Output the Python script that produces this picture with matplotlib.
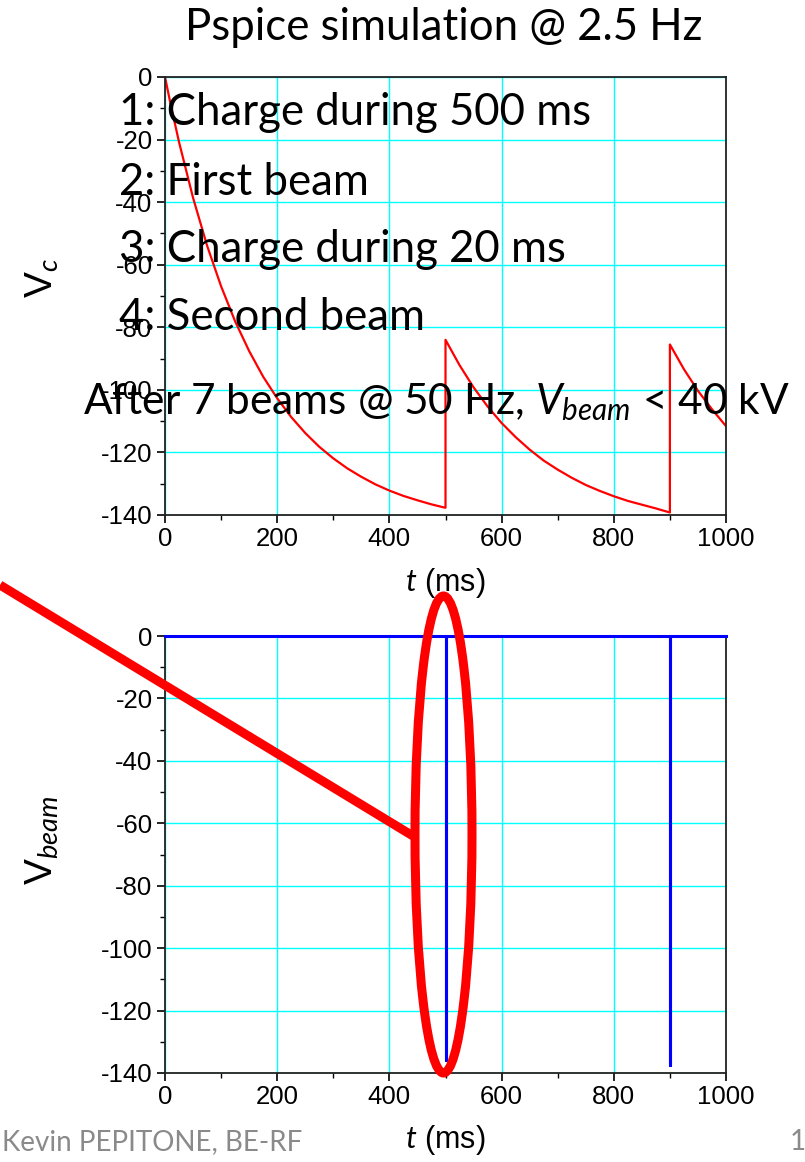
import numpy as np
import matplotlib
matplotlib.use("Agg")
import matplotlib.pyplot as plt
from matplotlib.patches import Ellipse
from matplotlib.lines import Line2D
from matplotlib.ticker import MultipleLocator

# ---- data ----
# capacitor voltage Vc (top panel)
t_vc = [0, 10, 25, 50, 75, 100, 125, 150, 175, 200, 225, 250, 275, 300, 325, 350,
        375, 400, 425, 450, 475, 500,
        500, 525, 550, 575, 600, 625, 650, 675, 700, 725, 750, 775, 800, 825, 850,
        875, 900,
        900, 925, 950, 975, 1000]
v_c = [0, -8.7, -20.8, -38.6, -53.9, -66.9, -78.1, -87.6, -95.8, -102.7, -108.7,
       -113.8, -118.2, -121.9, -125.1, -127.8, -130.2, -132.2, -133.9, -135.3,
       -136.6, -137.7,
       -84.0, -92.1, -99.2, -105.3, -110.6, -115.1, -119.1, -122.6, -125.5, -128.1,
       -130.4, -132.3, -134.0, -135.5, -136.7, -137.9, -139.2,
       -85.5, -93.4, -100.3, -106.2, -111.6]

# beam voltage (bottom panel)
t_beam = [0, 500, 500, 500, 900, 900, 900, 1000]
v_beam = [0, 0, -135.8, 0, 0, -137.5, 0, 0]

xticks = [0, 200, 400, 600, 800, 1000]
yticks = [0, -20, -40, -60, -80, -100, -120, -140]

notes = ["1: Charge during 500 ms", "2: First beam", "3: Charge during 20 ms",
         "4: Second beam"]

plt.rcParams['font.family'] = ['Liberation Sans', 'DejaVu Sans']
plt.rcParams['axes.unicode_minus'] = False
plt.rcParams['mathtext.fontset'] = 'custom'
plt.rcParams['mathtext.rm'] = 'Lato'
plt.rcParams['mathtext.it'] = 'Lato:italic'

W, H = 805, 1162
fig = plt.figure(figsize=(W / 100, H / 100), dpi=100)


def fx(px):
    return px / W


def fy(py):
    return 1 - py / H


def style(ax):
    ax.set_xlim(0, 1000)
    ax.set_ylim(-140, 0)
    ax.set_xticks(xticks)
    ax.set_yticks(yticks)
    ax.xaxis.set_minor_locator(MultipleLocator(100))
    ax.yaxis.set_minor_locator(MultipleLocator(10))
    ax.tick_params(which='major', direction='out', length=6, width=1.2,
                   labelsize=18.5, pad=3)
    ax.tick_params(which='minor', direction='out', length=3.5, width=1.0)
    ax.tick_params(top=False, right=False)
    ax.grid(True, which='major', color='#00ffff', lw=1.0)
    ax.set_axisbelow(True)
    for s in ax.spines.values():
        s.set_linewidth(1.3)
        s.set_color('#222222')


ax1 = fig.add_axes([fx(165), fy(515), fx(561), 438 / H])
style(ax1)
ax1.plot(t_vc, v_c, color='red', lw=1.6)

ax2 = fig.add_axes([fx(165), fy(1073), fx(561), 437 / H])
style(ax2)
ax2.plot(t_beam, v_beam, color='#0000ff', lw=2.2, clip_on=False, zorder=5)

# axis labels
fig.text(fx(445), fy(583), r'$t$ (ms)', ha='center', va='center', fontsize=22)
fig.text(fx(445), fy(1140), r'$t$ (ms)', ha='center', va='center', fontsize=22)
fig.text(fx(41), fy(278), r'V$_{c}$', ha='center', va='center', fontsize=28,
         rotation=90)
fig.text(fx(41), fy(840), r'V$_{beam}$', ha='center', va='center', fontsize=28,
         rotation=90)

# title and notes
fig.text(fx(444), fy(40), 'Pspice simulation @ 2.5 Hz', ha='center',
         va='baseline', fontsize=31.5, family='Lato')
baselines = [125, 195, 262, 330]
for s, b in zip(notes, baselines):
    fig.text(fx(119), fy(b), s, ha='left', va='baseline', fontsize=31.5,
             family='Lato')
fig.text(fx(83), fy(414), r'After 7 beams @ 50 Hz, $V_{beam}$ < 40 kV',
         ha='left', va='baseline', fontsize=30.5, family='Lato')

# footer
fig.text(fx(2), fy(1150), 'Kevin PEPITONE, BE-RF', ha='left', va='baseline',
         fontsize=20, family='Lato', color='#8a8a8a')
fig.text(fx(790), fy(1150), '1', ha='left', va='baseline', fontsize=20,
         family='Lato', color='#8a8a8a')

# red highlight: pointer line and ellipse
fig.add_artist(Line2D([fx(0), fx(413)], [fy(585), fy(836)], color='red', lw=6.5,
                      solid_capstyle='butt'))
fig.add_artist(Ellipse((fx(443.5), fy(834.5)), fx(57), 477 / H, fill=False,
                       edgecolor='red', lw=6.5))

fig.savefig('out.png', dpi=100)
